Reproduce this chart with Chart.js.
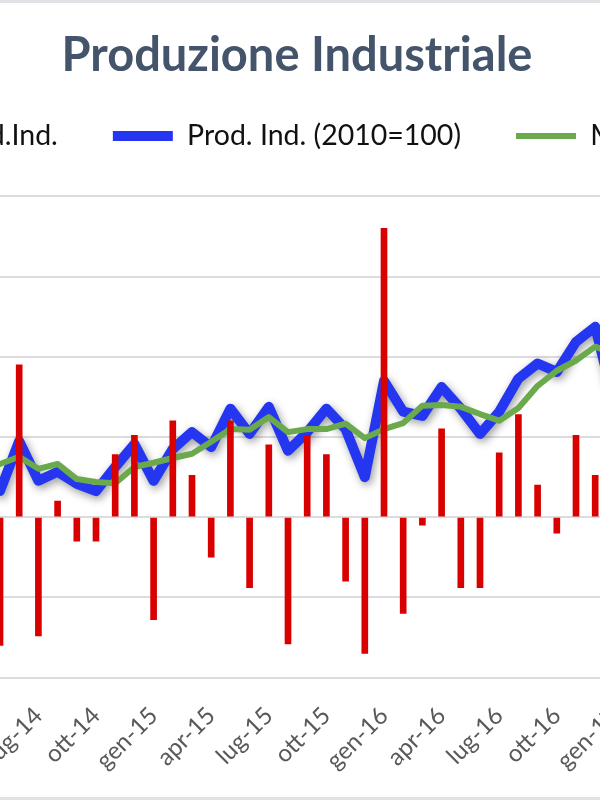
<!DOCTYPE html>
<html>
<head>
<meta charset="utf-8">
<title>Produzione Industriale</title>
<script src="https://cdn.jsdelivr.net/npm/chart.js@4.4.0/dist/chart.umd.min.js"></script>
<style>
  html, body { margin: 0; padding: 0; background: #fff; }
  #frame { position: relative; width: 600px; height: 800px; overflow: hidden; }
  #frame:before, #frame:after { content: ''; position: absolute; left: 0; right: 0; height: 3px; background: #e1e1e6; z-index: 2; }
  #frame:before { top: 0; }
  #frame:after { bottom: 0; }
  #box { position: absolute; left: -303px; top: 0; width: 1200px; height: 800px; }
</style>
</head>
<body>
<div id="frame"><div id="box"><canvas id="chart" width="1200" height="800"></canvas></div></div>
<script>
// mesi (il grafico originale e' piu' largo della finestra)
const mesi = ['apr-14','mag-14','giu-14','lug-14','ago-14','set-14','ott-14','nov-14','dic-14',
  'gen-15','feb-15','mar-15','apr-15','mag-15','giu-15','lug-15','ago-15','set-15','ott-15','nov-15','dic-15',
  'gen-16','feb-16','mar-16','apr-16','mag-16','giu-16','lug-16','ago-16','set-16','ott-16','nov-16','dic-16',
  'gen-17'];
const mesiEtichetta = ['gen', 'apr', 'lug', 'ott'];

// variazione % mensile
const varPct = [0.3, -0.8, 0.95, -0.74, 0.1, -0.15, -0.15, 0.39, 0.51,
  -0.64, 0.6, 0.26, -0.25, 0.6, -0.44, 0.45, -0.79, 0.51, 0.39, -0.4, -0.85,
  1.8, -0.6, -0.05, 0.55, -0.44, -0.44, 0.4, 0.64, 0.2, -0.1, 0.51, 0.26,
  -2.3];

// indice produzione (2010=100)
const indice = [89.6, 89.1, 89.93, 89.27, 89.42, 89.22, 89.1, 89.5, 89.88,
  89.27, 89.8, 90.08, 89.83, 90.47, 90.05, 90.5, 89.77, 90.08, 90.47, 90.13, 89.33,
  90.93, 90.42, 90.35, 90.83, 90.47, 90.05, 90.42, 90.97, 91.22, 91.08, 91.58, 91.83,
  90.55];

// media mobile 3 mesi
const mediaMobile = [89.47, 89.55, 89.67, 89.47, 89.55, 89.3, 89.25, 89.23, 89.5,
  89.57, 89.65, 89.72, 89.92, 90.13, 90.12, 90.33, 90.08, 90.13, 90.13, 90.22, 89.98,
  90.13, 90.23, 90.52, 90.53, 90.5, 90.38, 90.27, 90.48, 90.85, 91.1, 91.27, 91.5,
  91.38];

const font = "Lato, 'Open Sans', sans-serif";

// ombra sotto la linea blu
const ombra = {
  id: 'ombra',
  beforeDatasetDraw(chart, args) {
    if (args.index !== 1) return;
    const ctx = chart.ctx;
    ctx.save();
    ctx.shadowColor = 'rgba(0,0,0,0.4)';
    ctx.shadowBlur = 8;
    ctx.shadowOffsetX = 2;
    ctx.shadowOffsetY = 3;
  },
  afterDatasetDraw(chart, args) {
    if (args.index === 1) chart.ctx.restore();
  }
};

// spazio tra legenda e grafico
const spazioLegenda = {
  id: 'spazioLegenda',
  beforeInit(chart) {
    const fit = chart.legend.fit;
    chart.legend.fit = function () {
      fit.bind(chart.legend)();
      this.height += 36;
    };
  }
};

const ctx = document.getElementById('chart').getContext('2d');
new Chart(ctx, {
  data: {
    labels: mesi,
    datasets: [
      {
        type: 'bar',
        label: 'Var. % Prod.Ind.',
        data: varPct,
        backgroundColor: '#d90000',
        borderWidth: 0,
        barThickness: 6,
        yAxisID: 'y',
        order: 0,
        pointStyle: 'rect'
      },
      {
        type: 'line',
        label: 'Prod. Ind. (2010=100)',
        data: indice,
        borderColor: '#2536f0',
        backgroundColor: '#2536f0',
        borderWidth: 10,
        borderCapStyle: 'round',
        borderJoinStyle: 'round',
        pointRadius: 0,
        pointStyle: 'line',
        tension: 0,
        yAxisID: 'y1',
        order: 2
      },
      {
        type: 'line',
        label: 'Media mobile 3m',
        data: mediaMobile,
        borderColor: '#6aaa4c',
        backgroundColor: '#6aaa4c',
        borderWidth: 6,
        borderCapStyle: 'round',
        borderJoinStyle: 'round',
        pointRadius: 0,
        pointStyle: 'line',
        tension: 0,
        yAxisID: 'y1',
        order: 1
      }
    ]
  },
  options: {
    responsive: false,
    animation: false,
    layout: { padding: { left: 0, right: 0, top: 0, bottom: 9 } },
    plugins: {
      title: {
        display: true,
        text: 'Produzione Industriale',
        color: '#44546a',
        font: { family: font, size: 47, weight: 'bold' },
        padding: { top: 28, bottom: -17.6 }
      },
      legend: {
        display: true,
        labels: {
          usePointStyle: true,
          pointStyleWidth: 60,
          color: '#111',
          padding: 55,
          font: { family: font, size: 28.5 },
          sort: (a, b) => a.datasetIndex - b.datasetIndex
        }
      },
      tooltip: { enabled: false }
    },
    scales: {
      x: {
        offset: true,
        grid: { display: false },
        border: { display: false },
        ticks: {
          autoSkip: false,
          minRotation: 45,
          maxRotation: 45,
          padding: 16,
          color: '#595959',
          font: { family: font, size: 24 },
          callback: function (val, i) {
            const m = mesi[i];
            return mesiEtichetta.includes(m.slice(0, 3)) ? m : '';
          }
        }
      },
      y: {
        position: 'left',
        min: -1,
        max: 2,
        ticks: { display: false, stepSize: 0.5 },
        border: { display: false },
        grid: { color: '#dcdce0', lineWidth: 2, drawTicks: false },
        afterFit: function (scale) { scale.width = 274.2; }
      },
      y1: {
        position: 'right',
        min: 86,
        max: 94,
        ticks: { display: false },
        border: { display: false },
        grid: { display: false, drawTicks: false },
        afterFit: function (scale) { scale.width = 273; }
      }
    }
  },
  plugins: [ombra, spazioLegenda]
});
</script>
</body>
</html>
